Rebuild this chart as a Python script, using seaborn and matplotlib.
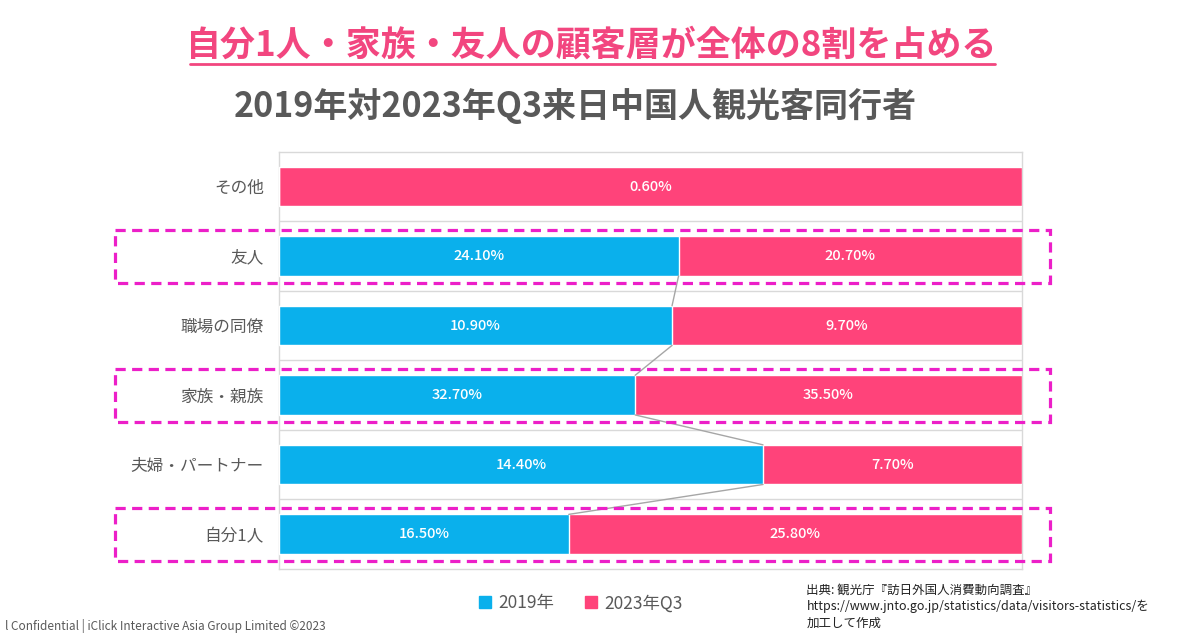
import numpy as np
import pandas as pd
import matplotlib
matplotlib.use("Agg")
import matplotlib.pyplot as plt
import matplotlib.patches as mpatches
import matplotlib.transforms as mtransforms
import seaborn as sns

# Data (top row first, as drawn)
categories = ["その他", "友人", "職場の同僚", "家族・親族", "夫婦・パートナー", "自分1人"]
values_2019 = [0.0, 24.1, 10.9, 32.7, 14.4, 16.5]
values_2023q3 = [0.6, 20.7, 9.7, 35.5, 7.7, 25.8]
series_names = ["2019年", "2023年Q3"]
highlight_rows = ["友人", "家族・親族", "自分1人"]

title_text = "自分1人・家族・友人の顧客層が全体の8割を占める"
subtitle_text = "2019年対2023年Q3来日中国人観光客同行者"
source_lines = [
    "出典: 観光庁『訪日外国人消費動向調査』",
    "https://www.jnto.go.jp/statistics/data/visitors-statistics/を",
    "加工して作成",
]
footer_text = "l Confidential | iClick Interactive Asia Group Limited ©2023"

BLUE = "#0AB0EC"
PINK = "#FF437A"
MAGENTA = "#EC1FC8"
GRAY = "#595959"
GRID = "#D9D9D9"

sns.set_theme(style="white")
plt.rcParams["font.family"] = ["Noto Sans CJK JP", "DejaVu Sans"]

df = pd.DataFrame({
    "category": categories,
    "v2019": values_2019,
    "v2023": values_2023q3,
})
df["total"] = df["v2019"] + df["v2023"]
df["share2019"] = df["v2019"] / df["total"]
df["full"] = df["total"] / df["total"]

fig = plt.figure(figsize=(12, 6.35), dpi=100)
ax = fig.add_axes([0.2325, 0.104, 0.619, 0.657])

bar_h = 0.57
sns.barplot(data=df, x="full", y="category", order=categories, orient="h",
            color=PINK, width=bar_h, saturation=1, ax=ax, zorder=3)
sns.barplot(data=df, x="share2019", y="category", order=categories, orient="h",
            color=BLUE, width=bar_h, saturation=1, ax=ax, zorder=3)

ax.set_xlim(0, 1)
ax.set_ylim(len(categories) - 0.5, -0.5)
ax.set_xlabel("")
ax.set_ylabel("")
ax.set_xticks([])
ax.tick_params(axis="y", length=0, pad=11, labelsize=12, labelcolor=GRAY)
for s in ax.spines.values():
    s.set_color(GRID)
    s.set_linewidth(1)
ax.hlines(np.arange(len(categories) - 1) + 0.5, 0, 1, color=GRID, lw=1, zorder=1)

# value labels
for i, row in df.iterrows():
    if row["v2019"] > 0:
        ax.text(row["share2019"] / 2, i, f"{row['v2019']:.2f}%", ha="center", va="center",
                color="white", fontsize=10.5, fontweight="medium", zorder=5)
    if row["v2023"] > 0:
        ax.text((row["share2019"] + 1) / 2, i, f"{row['v2023']:.2f}%", ha="center", va="center",
                color="white", fontsize=10.5, fontweight="medium", zorder=5)

# series lines between segment boundaries
for i in range(len(categories) - 1):
    if values_2019[i] > 0 and values_2019[i + 1] > 0:
        ax.plot([df["share2019"][i], df["share2019"][i + 1]],
                [i + bar_h / 2, i + 1 - bar_h / 2], color="#A6A6A6", lw=1, zorder=4)

# dashed highlight boxes
blend = mtransforms.blended_transform_factory(fig.transFigure, ax.transData)
for name in highlight_rows:
    i = categories.index(name)
    rect = mpatches.Rectangle((0.0958, i - 0.37), 0.875 - 0.0958, 0.76, fill=False,
                              edgecolor=MAGENTA, lw=2.3, ls=(0, (3.2, 2.0)),
                              transform=blend, clip_on=False, zorder=6)
    ax.add_patch(rect)

# titles
fig.text(0.493, 0.929, title_text, ha="center", va="center", fontsize=25.2,
         fontweight="bold", color="#F2467F")
fig.add_artist(plt.Line2D([0.158, 0.829], [0.899, 0.899], color="#F2467F", lw=2,
                          transform=fig.transFigure))
fig.text(0.479, 0.834, subtitle_text, ha="center", va="center", fontsize=24.5,
         fontweight="bold", color=GRAY)

# legend
handles = [mpatches.Patch(color=BLUE, label=series_names[0]),
           mpatches.Patch(color=PINK, label=series_names[1])]
fig.legend(handles=handles, loc="center", bbox_to_anchor=(0.484, 0.05), ncol=2,
           frameon=False, fontsize=12.5, handlelength=0.7, handleheight=0.7,
           handletextpad=0.4, columnspacing=1.8, labelcolor=GRAY)

# source
for k, line in enumerate(source_lines):
    fig.text(0.672, 1 - (590 + k * 16.5) / 635, line, ha="left", va="center",
             fontsize=9, color="#222222")

fig.text(0.004, 0.003, footer_text, ha="left", va="bottom", fontsize=8.5, color=GRAY)

fig.savefig("out.png", dpi=100)
